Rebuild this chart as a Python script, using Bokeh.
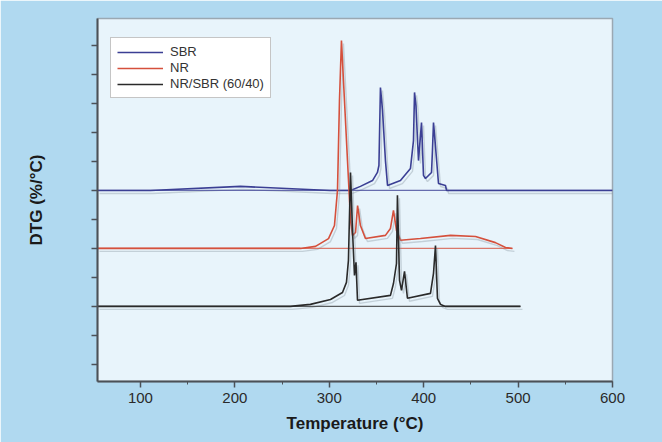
from bokeh.plotting import figure
from bokeh.models import (Range1d, SingleIntervalTicker, FixedTicker, CustomJSTickFormatter,
                          Legend, LegendItem)
from bokeh.embed import file_html
from bokeh.resources import INLINE

# ---- data (temperature in °C, DTG in %/°C units relative to each curve's own baseline) ----
sbr_t = [54.5, 110.6, 205.9, 301, 322.5, 333, 345.8, 351, 352.6, 354.2, 356.4, 359.5, 361.7,
         375.4, 386, 389.2, 390.3, 391.8, 394.5, 397.7, 399.8, 401.9, 408.3, 409.3, 410.4, 412,
         415.7, 423.1, 424.2, 600]
sbr_v = [0, 0, 0.14, 0, 0, 0.14, 0.34, 0.62, 0.86, 3.55, 2.76, 1.03, 0.17,
         0.34, 0.76, 1.72, 3.38, 2.93, 1.03, 2.34, 0.52, 0.41, 0.62, 1.38, 2.34, 1.72,
         0.24, 0.17, 0, 0]

nr_t = [54.5, 269.5, 285.4, 299.2, 305.5, 308.7, 310.8, 312.9, 316.1, 319.3, 322.5, 324.6, 327.8,
        330, 333, 338.3, 359.5, 364.8, 368, 371.2, 375.4, 396.6, 428.4, 454.9, 476, 486.7, 494]
nr_v = [0, 0, 0.07, 0.34, 0.79, 2.0, 5.1, 7.17, 5.1, 3.03, 0.97, 0.45, 0.55,
        1.48, 0.79, 0.34, 0.45, 0.69, 1.31, 0.62, 0.28, 0.34, 0.45, 0.41, 0.2, 0.03, 0]

bl_t = [54.5, 258.9, 280, 301.3, 314, 318.2, 320.3, 322.5, 324.6, 326.7, 328.3, 329.9, 364.8, 368,
        371.2, 372.2, 374.4, 376.5, 379.7, 382.8, 407.2, 410.4, 412.5, 414.6, 417.8, 423.1, 502.5]
bl_v = [0, 0, 0.07, 0.24, 0.48, 0.83, 1.59, 4.62, 2.62, 1.07, 1.52, 0.21, 0.38, 0.79,
        1.48, 3.83, 0.9, 0.55, 1.21, 0.28, 0.45, 1.14, 2.1, 0.28, 0.07, 0, 0]

series_names = ["SBR", "NR", "NR/SBR (60/40)"]
series_colors = ["#3b3f94", "#d5503c", "#2a2a2a"]
series_offsets = [6, 4, 2]

x_ticks_interval = 100
y_tick_values = list(range(0, 12))

X0, X1 = 54.5, 600
Y0, Y1 = -0.59, 11.93

p = figure(width=662, height=442, output_backend="svg", toolbar_location=None,
           x_range=Range1d(X0, X1), y_range=Range1d(Y0, Y1),
           min_border_left=97, min_border_right=50, min_border_top=18, min_border_bottom=61)

# shifted ranges used only to draw a soft drop shadow under each trace (about 2 px right, 3 px down)
dx = (X1 - X0) / 515 * 2
dy = (Y1 - Y0) / 363 * 3
p.extra_x_ranges = {"shadow": Range1d(X0 - dx, X1 - dx)}
p.extra_y_ranges = {"shadow": Range1d(Y0 + dy, Y1 + dy)}

p.border_fill_color = "#b0d9f0"
p.background_fill_color = "#e8f4fb"
p.outline_line_color = "#9aa8b2"
p.outline_line_width = 1.5
p.grid.visible = False

renderers = []
for (t, v, name, col, off) in zip([sbr_t, nr_t, bl_t], [sbr_v, nr_v, bl_v], series_names,
                                  series_colors, series_offsets):
    ys = [vv + off for vv in v]
    p.line(t, ys, line_color="#7d8c99", line_width=1.4, line_alpha=0.35,
           x_range_name="shadow", y_range_name="shadow")
    # baseline trace running underneath the peaks
    p.line([t[0], t[-1]], [off, off], line_color=col, line_width=1.2, line_alpha=0.75)
    r = p.line(t, ys, line_color=col, line_width=1.6)
    renderers.append((name, r))

legend = Legend(items=[LegendItem(label=n, renderers=[r]) for n, r in renderers],
                location=(13, 283))
legend.label_text_font = "Liberation Sans"
legend.label_text_font_size = "13px"
legend.label_text_color = "#333333"
legend.glyph_width = 46
legend.glyph_height = 12
legend.label_height = 12
legend.spacing = 1
legend.padding = 6
legend.margin = 0
legend.label_standoff = 7
legend.border_line_color = "#8c8c8c"
legend.border_line_width = 1.5
legend.background_fill_color = "white"
legend.background_fill_alpha = 1.0
p.add_layout(legend)

# x axis
p.xaxis.ticker = SingleIntervalTicker(interval=x_ticks_interval, num_minor_ticks=2)
p.xaxis.axis_label = "Temperature (°C)"
p.xaxis.axis_label_text_font = "Liberation Sans"
p.xaxis.axis_label_text_font_style = "bold"
p.xaxis.axis_label_text_font_size = "17px"
p.xaxis.axis_label_text_color = "#1a1a1a"
p.xaxis.axis_label_standoff = 8
p.xaxis.major_label_text_font = "Liberation Sans"
p.xaxis.major_label_text_font_size = "15px"
p.xaxis.major_label_text_color = "#2a2a2a"
p.xaxis.major_label_standoff = 5

# y axis
p.yaxis.ticker = FixedTicker(ticks=y_tick_values)
p.yaxis.formatter = CustomJSTickFormatter(code="return ''")
p.yaxis.axis_label = "DTG (%/°C)"
p.yaxis.axis_label_text_font = "Liberation Sans"
p.yaxis.axis_label_text_font_style = "bold"
p.yaxis.axis_label_text_font_size = "17px"
p.yaxis.axis_label_text_color = "#1a1a1a"
p.yaxis.axis_label_standoff = 46

for ax in (p.xaxis, p.yaxis):
    ax.axis_line_color = "#4b5157"
    ax.axis_line_width = 2
    ax.major_tick_line_color = "#4b5157"
    ax.minor_tick_line_color = "#4b5157"
    ax.major_tick_line_width = 1.5
    ax.major_tick_in = 0
    ax.major_tick_out = 6
    ax.minor_tick_in = 0
    ax.minor_tick_out = 3

open("out.html", "w").write(file_html(p, INLINE))
